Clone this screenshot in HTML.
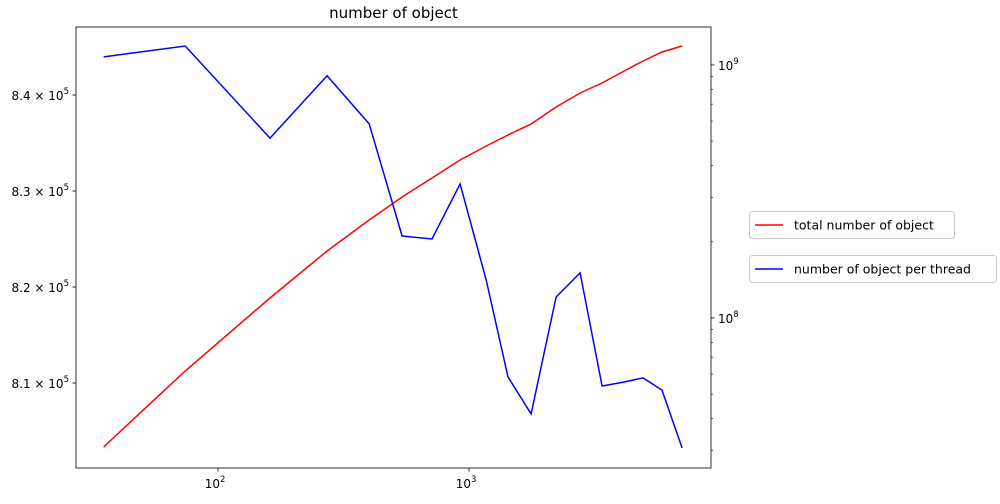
<!DOCTYPE html>
<html><head><meta charset="utf-8"><style>
body{margin:0;background:#fff;font-family:"DejaVu Sans","Liberation Sans",sans-serif;}
svg text{font-family:"DejaVu Sans","Liberation Sans",sans-serif;fill:#000}
</style></head><body>
<svg id="c" width="1000" height="500" xmlns="http://www.w3.org/2000/svg"></svg>
<script>
const xs=[35,74,161,272,400,541,712,921,1170,1430,1767,2222,2770,3388,4150,4935,5870,7060];
const totalObjects=[803333,811250,818854,823750,826979,829375,831354,833229,834688,835833,836979,838750,840208,841250,842500,843542,844479,845104];
const perThreadLog=[9.032,9.075,8.711,8.957,8.767,8.324,8.312,8.530,8.150,7.767,7.621,8.083,8.178,7.731,7.747,7.763,7.715,7.486];
const leftTicks=[810000,820000,830000,840000];
const leftTickLabels=["8.1","8.2","8.3","8.4"];
const L=76,R=711,T=27,B=468;
const xMinLog=1.434,xMaxLog=3.964;
const yLmin=801146,yLmax=847083;
const yRmin=7.407,yRmax=9.150;
const sx=v=>L+(Math.log10(v)-xMinLog)/(xMaxLog-xMinLog)*(R-L);
const syL=v=>B-(v-yLmin)/(yLmax-yLmin)*(B-T);
const syR=lg=>B-(lg-yRmin)/(yRmax-yRmin)*(B-T);
const svg=document.getElementById('c');
const NS='http://www.w3.org/2000/svg';
function mk(tag,attrs,parent){const e=document.createElementNS(NS,tag);for(const k in attrs)e.setAttribute(k,attrs[k]);(parent||svg).appendChild(e);return e;}
let t=mk('text',{x:(L+R)/2,y:18,'text-anchor':'middle','font-size':15});t.textContent='number of object';


let pr=xs.map((x,i)=>sx(x).toFixed(1)+','+syL(totalObjects[i]).toFixed(1)).join(' ');
let l1=mk('polyline',{points:pr,fill:'none',stroke:'#ff0000','stroke-width':1.5});


let pb=xs.map((x,i)=>sx(x).toFixed(1)+','+syR(perThreadLog[i]).toFixed(1)).join(' ');
let l2=mk('polyline',{points:pb,fill:'none',stroke:'#0000ff','stroke-width':1.5});


let fr=mk('rect',{x:L,y:T,width:R-L,height:B-T,fill:'none',stroke:'#000','stroke-width':0.8});


for(let d=1;d<=3;d++){const v=Math.pow(10,d);const lg=d;if(lg<xMinLog||lg>xMaxLog)continue;const x=sx(v);
 mk('line',{x1:x,x2:x,y1:B,y2:B+3.5,stroke:'#000','stroke-width':0.8});
 const tx=mk('text',{x:x-3,y:B+20,'text-anchor':'middle','font-size':12});tx.innerHTML='10<tspan dy="-6" font-size="8.5">'+d+'</tspan>';
 
 }
leftTicks.forEach((v,i)=>{const y=syL(v);mk('line',{x1:L-3.5,x2:L,y1:y,y2:y,stroke:'#000','stroke-width':0.8});
 const tx=mk('text',{x:L-7,y:y+5,'text-anchor':'end','font-size':12});tx.innerHTML=leftTickLabels[i]+' × 10<tspan dy="-6" font-size="8.5">5</tspan>';
 
 });
for(let d=7;d<=9;d++)for(let m=1;m<10;m++){const lg=Math.log10(m*Math.pow(10,d));if(lg<yRmin||lg>yRmax)continue;const y=syR(lg);
 mk('line',{x1:R,x2:R+(m==1?3.5:2),y1:y,y2:y,stroke:'#000','stroke-width':m==1?0.8:0.6});
 if(m==1){const tx=mk('text',{x:R+7,y:y+5,'font-size':12});tx.innerHTML='10<tspan dy="-6" font-size="8.5">'+d+'</tspan>';
 
 }}
function legend(y,w,col,label,name){const g=mk('g',{});
 mk('rect',{x:749.5,y:y,width:w,height:27,rx:3,fill:'#fff',stroke:'#ccc'},g);
 mk('line',{x1:755,x2:783,y1:y+13.5,y2:y+13.5,stroke:col,'stroke-width':1.5},g);
 const tx=mk('text',{x:794,y:y+18,'font-size':12.5},g);tx.textContent=label;}
legend(211.5,205,'#ff0000','total number of object','legend-total');
legend(255.5,247,'#0000ff','number of object per thread','legend-per-thread');
</script>
</body></html>
